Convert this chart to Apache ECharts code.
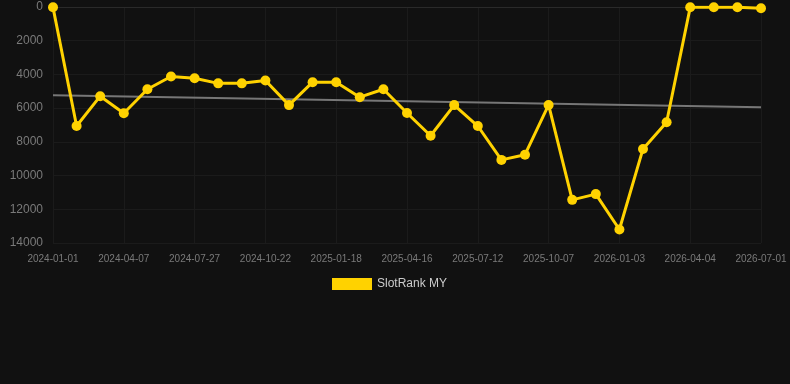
<!DOCTYPE html>
<html>
<head>
<meta charset="utf-8">
<script src="https://cdn.jsdelivr.net/npm/echarts@6/dist/echarts.min.js"></script>
<style>
html,body{margin:0;padding:0;background:#111111;}
#chart{width:790px;height:384px;}
</style>
</head>
<body>
<div id="chart"></div>
<script>
var categories = [
  '2024-01-01','2024-02-02','2024-03-05','2024-04-07','2024-05-14','2024-06-20',
  '2024-07-27','2024-08-25','2024-09-23','2024-10-22','2024-11-21','2024-12-20',
  '2025-01-18','2025-02-17','2025-03-18','2025-04-16','2025-05-15','2025-06-13',
  '2025-07-12','2025-08-10','2025-09-08','2025-10-07','2025-11-05','2025-12-04',
  '2026-01-03','2026-02-02','2026-03-05','2026-04-04','2026-05-03','2026-06-01',
  '2026-07-01'
];
var rankValues = [
  20, 7060, 5290, 6300, 4880, 4120, 4230, 4530, 4530, 4360,
  5820, 4460, 4460, 5350, 4880, 6290, 7640, 5820, 7060, 9070,
  8760, 5810, 11440, 11100, 13200, 8420, 6840, 20, 20, 20,
  70
];
var trendStart = 5230;
var trendEnd = 5940;
var seriesName = 'SlotRank MY';
var yTicks = {min: 0, max: 14000, interval: 2000};

var trendData = categories.map(function (c, i) {
  if (i === 0) return trendStart;
  if (i === categories.length - 1) return trendEnd;
  return null;
});

var chart = echarts.init(document.getElementById('chart'), null, {renderer: 'canvas'});
chart.setOption({
  backgroundColor: '#111111',
  animation: false,
  textStyle: {fontFamily: 'Liberation Sans, Arial, sans-serif'},
  grid: {left: 53, right: 29, top: 7, bottom: 141, containLabel: false},
  legend: {
    data: [seriesName],
    top: 273,
    left: 327,
    itemWidth: 40,
    itemHeight: 12,
    itemGap: 10,
    icon: 'rect',
    textStyle: {color: '#cccccc', fontSize: 12}
  },
  xAxis: {
    type: 'category',
    data: categories,
    boundaryGap: false,
    axisLine: {show: true, lineStyle: {color: '#2a2a2a'}},
    axisTick: {show: false},
    axisLabel: {interval: 2, color: '#7a7a7a', fontSize: 10, margin: 11},
    splitLine: {show: true, interval: 2, lineStyle: {color: '#1b1b1b'}}
  },
  yAxis: {
    type: 'value',
    inverse: true,
    min: yTicks.min,
    max: yTicks.max,
    interval: yTicks.interval,
    axisLine: {show: false},
    axisTick: {show: false},
    axisLabel: {color: '#7a7a7a', fontSize: 12, margin: 10, formatter: function (v) { return String(v); }},
    splitLine: {show: true, lineStyle: {color: '#1b1b1b'}}
  },
  series: [
    {
      name: 'trend',
      type: 'line',
      data: trendData,
      connectNulls: true,
      symbol: 'none',
      lineStyle: {color: '#777777', width: 2},
      silent: true,
      z: 1
    },
    {
      name: seriesName,
      type: 'line',
      data: rankValues,
      symbol: 'circle',
      symbolSize: 10,
      itemStyle: {color: '#ffd200'},
      lineStyle: {color: '#ffd200', width: 3},
      z: 2
    }
  ]
});
</script>
</body>
</html>
